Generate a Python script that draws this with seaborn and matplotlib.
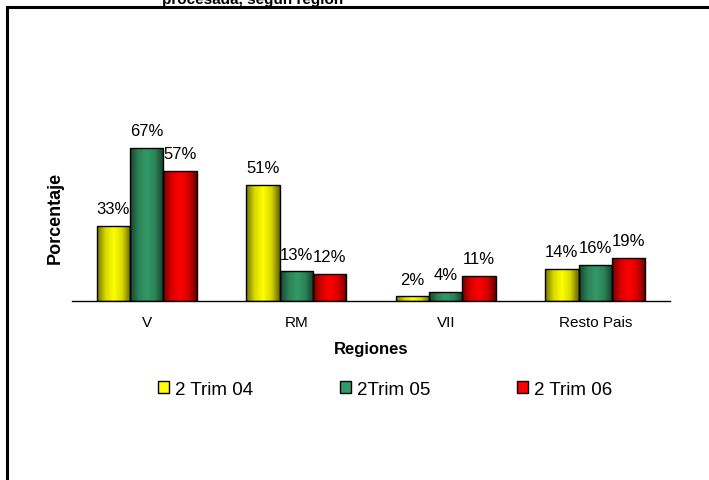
import pandas as pd
import numpy as np
import matplotlib
matplotlib.use("Agg")
import matplotlib.pyplot as plt
import seaborn as sns
from matplotlib.colors import LinearSegmentedColormap
from matplotlib.patches import Rectangle

# datos
regiones = ["V", "RM", "VII", "Resto Pais"]
series = ["2 Trim 04", "2Trim 05", "2 Trim 06"]
trim04 = [33, 51, 2, 14]
trim05 = [67, 13, 4, 16]
trim06 = [57, 12, 11, 19]
colores = ["#FFFF00", "#339966", "#FF0000"]

df = pd.DataFrame({
    "Region": regiones * 3,
    "Serie": [series[0]] * 4 + [series[1]] * 4 + [series[2]] * 4,
    "Valor": trim04 + trim05 + trim06,
})

sns.set_style("white", {"text.color": "black", "axes.labelcolor": "black",
                        "xtick.color": "black", "ytick.color": "black"})
plt.rcParams["font.family"] = ["Liberation Sans", "DejaVu Sans"]

fig = plt.figure(figsize=(7.09, 4.81), dpi=100)
ax = fig.add_axes([0.1016, 0.372, 0.8434, 0.38])

sns.barplot(data=df, x="Region", y="Valor", hue="Serie", palette=colores,
            width=0.67, edgecolor="black", linewidth=1, ax=ax, legend=False,
            saturation=1)

# sombreado tipo cilindro
for cont, col in zip(ax.containers, colores):
    rgb = np.array(matplotlib.colors.to_rgb(col))
    cmap = LinearSegmentedColormap.from_list(
        "g", [rgb * 0.45, rgb * 0.85, rgb, rgb * 0.85, rgb * 0.4],
    )
    grad = np.linspace(0, 1, 64).reshape(1, -1)
    for p in cont.patches:
        x0, y0 = p.get_x(), p.get_y()
        w, h = p.get_width(), p.get_height()
        im = ax.imshow(grad, cmap=cmap, aspect="auto",
                       extent=[x0, x0 + w, y0, y0 + h], zorder=p.get_zorder() - 0.1)
        im.set_clip_path(p)
        p.set_facecolor("none")
        p.set_zorder(p.get_zorder() + 0.2)
    ax.bar_label(cont, labels=[f"{int(v)}%" for v in cont.datavalues],
                 padding=7, fontsize=12, color="black")

ax.set_xlim(-0.5, 3.5)
ax.set_ylim(0, 80)
ax.set_yticks([])
ax.set_xlabel("Regiones", fontsize=12, fontweight="bold", labelpad=9)
ax.set_ylabel("Porcentaje", fontsize=13, fontweight="bold", labelpad=6)
ax.yaxis.label.set_y(0.459)
ax.tick_params(axis="x", which="major", length=0, pad=10, labelsize=11)
ax.set_xticks([-0.5, 0.5, 1.5, 2.5, 3.5], minor=True)
ax.tick_params(axis="x", which="minor", length=5, width=1, color="black", direction="out")
for s in ["top", "right", "left"]:
    ax.spines[s].set_visible(False)
ax.spines["bottom"].set_color("black")
ax.spines["bottom"].set_linewidth(1)

# leyenda
handles = [Rectangle((0, 0), 1, 1, facecolor=c, edgecolor="black", linewidth=1)
           for c in colores]
fig.legend(handles, series, loc="center", bbox_to_anchor=(0.543, 0.189), ncol=3,
           frameon=False, fontsize=13.5, handlelength=0.6, handleheight=0.6,
           handletextpad=0.3, columnspacing=4.62)

# marco y titulo cortado
fig.patches.append(Rectangle((0.0099, -0.1), 1.1, 1.083, transform=fig.transFigure,
                             fill=False, edgecolor="black", linewidth=2.2))
fig.text(0.357, 1 - 4 / 481, "procesada, según región", ha="center", va="baseline",
         fontsize=11, fontweight="bold")

fig.savefig("out.png", dpi=100)
